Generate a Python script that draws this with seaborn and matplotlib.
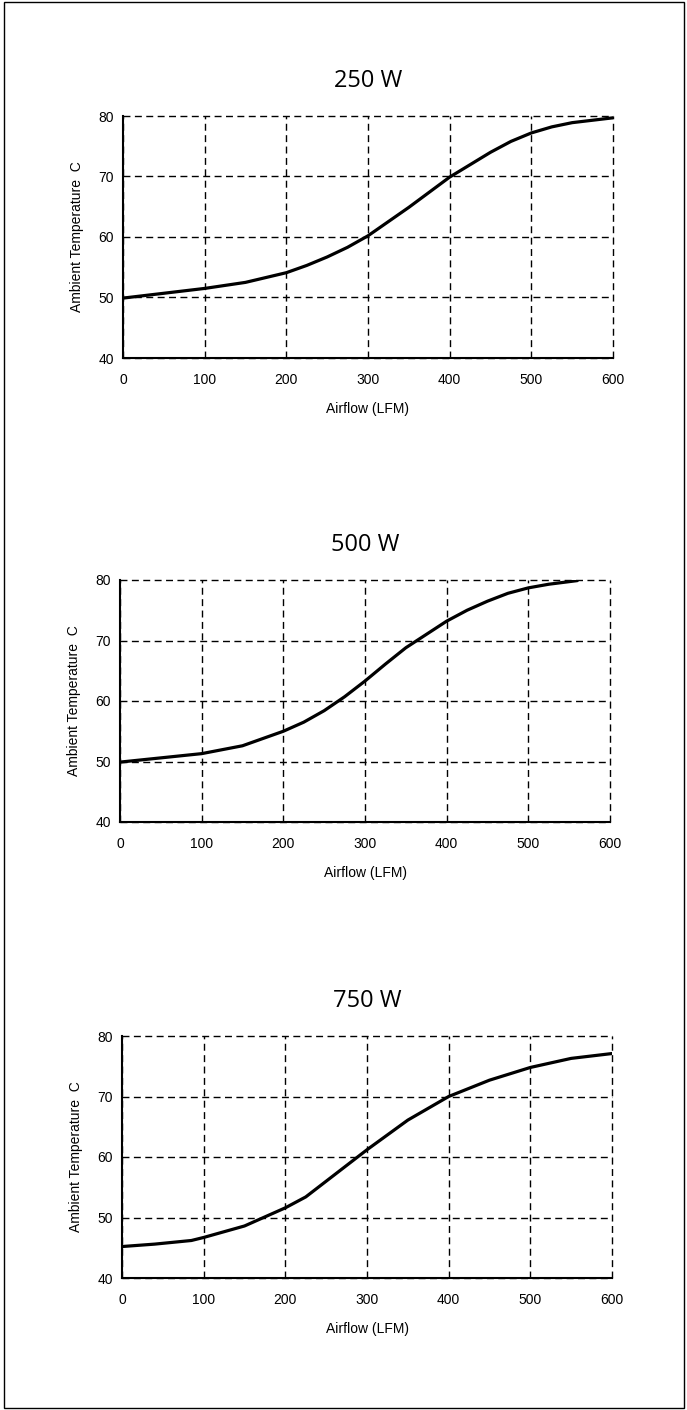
import matplotlib
matplotlib.use('Agg')
import matplotlib.pyplot as plt
from matplotlib.patches import Rectangle
import seaborn as sns
import pandas as pd

# Values
airflow_250 = [0, 50, 100, 150, 200, 225, 250, 275, 300, 350, 400, 450, 475, 500, 525, 550, 600]
temp_250 = [49.9, 50.7, 51.5, 52.5, 54.1, 55.3, 56.7, 58.3, 60.2, 64.9, 69.9, 74.0, 75.8,
            77.2, 78.2, 78.9, 79.7]

airflow_500 = [0, 50, 100, 150, 200, 225, 250, 275, 300, 325, 350, 400, 425, 450, 475, 500,
               525, 560]
temp_500 = [49.9, 50.6, 51.3, 52.6, 55.0, 56.5, 58.4, 60.7, 63.3, 66.1, 68.8, 73.2, 75.0,
            76.5, 77.8, 78.7, 79.3, 79.9]

airflow_750 = [0, 40, 85, 100, 150, 200, 225, 250, 275, 300, 350, 400, 450, 500, 550, 600]
temp_750 = [45.2, 45.6, 46.2, 46.7, 48.6, 51.6, 53.4, 56.0, 58.6, 61.2, 66.1, 70.0, 72.7,
            74.8, 76.3, 77.1]

titles = ['250 W', '500 W', '750 W']
x_ticks = [0, 100, 200, 300, 400, 500, 600]
y_ticks = [40, 50, 60, 70, 80]
x_label = 'Airflow (LFM)'
y_label = 'Ambient Temperature  C'

series = [(airflow_250, temp_250), (airflow_500, temp_500), (airflow_750, temp_750)]

# Setting the seaborn style
sns.set_theme(style='white')
plt.rcParams['font.family'] = ['Liberation Sans', 'DejaVu Sans']

W, H = 687, 1410
fig = plt.figure(figsize=(W / 100, H / 100), dpi=100)

# axes boxes in pixels: left, top, width, height
boxes = [(123, 116, 490, 242), (120, 580, 490, 242), (122, 1036, 490, 242)]

for (x, y), title, (l, t, w, h) in zip(series, titles, boxes):
    ax = fig.add_axes([l / W, 1 - (t + h) / H, w / W, h / H])
    data = pd.DataFrame({'x': x, 'y': y})
    sns.lineplot(data=data, x='x', y='y', ax=ax, color='black', linewidth=2.3, zorder=3)

    ax.set_xlim(0, 600)
    ax.set_ylim(40, 80)
    ax.set_xticks(x_ticks)
    ax.set_yticks(y_ticks)
    ax.tick_params(axis='both', length=0, labelsize=10, colors='black')
    ax.tick_params(axis='x', pad=11)
    ax.tick_params(axis='y', pad=6.5)

    # dashed grid, the lines at 80 and 600 act as the top and right frame
    ax.grid(True, color='black', linestyle=(0, (5, 3.2)), linewidth=1.0)
    for gl in ax.get_xgridlines() + ax.get_ygridlines():
        gl.set_clip_on(False)
    for side in ['top', 'right']:
        ax.spines[side].set_visible(False)
    for side in ['left', 'bottom']:
        ax.spines[side].set_color('black')
        ax.spines[side].set_linewidth(1.5)
        ax.spines[side].set_zorder(4)

    ax.set_xlabel(x_label, fontsize=10, color='black')
    ax.set_ylabel(y_label, fontsize=10, color='black')
    ax.xaxis.set_label_coords(0.5, -0.18)
    ax.yaxis.set_label_coords(-0.08, 0.5)
    ax.set_title(title, fontsize=17, family=['Open Sans', 'DejaVu Sans'], pad=21, color='black')

# thin frame round the whole figure
fig.patches.append(Rectangle((4 / W, 2 / H), (W - 7) / W, (H - 4) / H,
                             transform=fig.transFigure, fill=False,
                             edgecolor='black', linewidth=1.0))

plt.savefig('out.png', dpi=100)
